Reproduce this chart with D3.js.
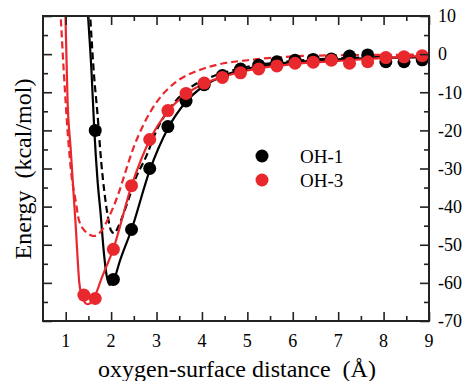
<!DOCTYPE html>
<html><head><meta charset="utf-8">
<script src="https://cdn.jsdelivr.net/npm/d3@7"></script>
<style>body{margin:0;background:#fff}</style>
</head><body><svg id="c" width="468" height="381"></svg>
<script>
// ---- data ----
const oh1X = [1.65,2.05,2.45,2.85,3.25,3.65,4.05,4.45,4.85,5.25,5.65,6.05,6.45,6.85,7.25,7.65,8.05,8.45,8.85];
const oh1Y = [-20,-59.1,-46,-30,-19,-12.3,-8,-5.6,-3.9,-2.9,-2.0,-1.6,-1.4,-1.3,-0.5,-0.2,-2.0,-2.0,-1.5];
const oh3X = [1.4,1.65,2.05,2.45,2.85,3.25,3.65,4.05,4.45,4.85,5.25,5.65,6.05,6.45,6.85,7.25,7.65,8.05,8.45,8.85];
const oh3Y = [-63.2,-64.1,-51.2,-34.5,-22.4,-14.8,-10.3,-7.6,-6.1,-4.9,-3.9,-3.1,-2.4,-2.1,-1.6,-2.4,-2.0,-0.9,-0.7,-0.4];

const fit1X = [1.48,1.57,1.63,1.70,1.77,1.84,1.90,1.97,2.05,2.20,2.45,2.85,3.25,3.65,4.05,4.5,5.0,5.5,6.0,7.0,8.0,9.0];
const fit1Y = [12,-5,-20,-33,-42,-52,-58,-60.5,-59.5,-54,-46,-30.5,-19.5,-12.5,-8.3,-5.6,-3.8,-2.8,-2.1,-1.4,-1.0,-0.8];
const dash1X = [1.53,1.62,1.70,1.78,1.85,1.92,2.00,2.07,2.15,2.25,2.40,2.51,2.77,3.02,3.35,3.72,4.2,4.6,5.0,6.0,7.0,8.0,9.0];
const dash1Y = [12,-5,-15.7,-28,-36,-42,-46.3,-47,-45.5,-42.6,-37.5,-33.5,-26.9,-19.5,-13.3,-9,-6,-4.5,-3.3,-1.8,-1.1,-0.7,-0.5];
const fit3X = [0.99,1.04,1.11,1.17,1.22,1.30,1.37,1.48,1.60,1.80,2.05,2.45,2.85,3.25,3.65,4.05,4.5,5.0,5.5,6.0,7.0,8.0,9.0];
const fit3Y = [12,-12,-25,-36,-45,-60,-64,-65.6,-64.5,-58.5,-51,-34.5,-22.5,-15,-10.5,-7.7,-5.8,-4.3,-3.3,-2.6,-1.8,-1.0,-0.4];
const dash3X = [0.88,0.96,1.04,1.12,1.22,1.29,1.44,1.55,1.63,1.77,1.96,2.15,2.30,2.47,2.73,3.02,3.43,3.94,4.4,5.0,6.0,7.0,8.0,9.0];
const dash3Y = [12,-5,-20,-31,-38.5,-43.5,-46.6,-47.5,-47.7,-46.6,-42.5,-37,-31.5,-25.3,-18.1,-12.3,-7.3,-4.2,-2.6,-1.6,-0.6,-0.3,-0.2,-0.1];

const xTicks = [1,2,3,4,5,6,7,8,9];
const yTicks = [10,0,-10,-20,-30,-40,-50,-60,-70];
const legendLabels = ["OH-1","OH-3"];
const colors = ["#000000","#e8282c"];

// ---- layout ----
const L=43,R=429,T=16,B=321;
const svg=d3.select("#c");
const x=d3.scaleLinear().domain([0.5,9]).range([L,R]);
const y=d3.scaleLinear().domain([-70,10]).range([B,T]);
const font="'Liberation Serif','Times New Roman',serif";

svg.append("defs").append("clipPath").attr("id","clip").append("rect")
  .attr("x",L).attr("y",T).attr("width",R-L).attr("height",B-T);

const g=svg.append("g").attr("clip-path","url(#clip)");
const line=d3.line().x(d=>x(d[0])).y(d=>y(d[1])).curve(d3.curveMonotoneX);
const zip=(a,b)=>a.map((v,i)=>[v,b[i]]);

g.append("path").datum(zip(dash1X,dash1Y)).attr("d",line).attr("fill","none")
  .attr("stroke",colors[0]).attr("stroke-width",2.2).attr("stroke-dasharray","7,4");
g.append("path").datum(zip(fit1X,fit1Y)).attr("d",line).attr("fill","none")
  .attr("stroke",colors[0]).attr("stroke-width",2.2);
g.append("path").datum(zip(dash3X,dash3Y)).attr("d",line).attr("fill","none")
  .attr("stroke",colors[1]).attr("stroke-width",2.2).attr("stroke-dasharray","7,4");
g.append("path").datum(zip(fit3X,fit3Y)).attr("d",line).attr("fill","none")
  .attr("stroke",colors[1]).attr("stroke-width",2.2);

g.selectAll(".d1").data(zip(oh1X,oh1Y)).enter().append("circle")
  .attr("cx",d=>x(d[0])).attr("cy",d=>y(d[1])).attr("r",6.5).attr("fill",colors[0]);
g.selectAll(".d3").data(zip(oh3X,oh3Y)).enter().append("circle")
  .attr("cx",d=>x(d[0])).attr("cy",d=>y(d[1])).attr("r",6.5).attr("fill",colors[1]);

// axes (inward ticks)
const xMinor=d3.range(1.5,9,1);
const yMinor=d3.range(-65,10,10);
function ax(axis, tr){ const a=svg.append("g").attr("transform",tr).call(axis);
  a.select(".domain").remove(); a.selectAll("line").attr("stroke","#222").attr("stroke-width",1.6); return a;}
ax(d3.axisBottom(x).tickValues(xTicks).tickSize(-9).tickFormat(""),`translate(0,${B})`);
ax(d3.axisBottom(x).tickValues(xMinor).tickSize(-5).tickFormat(""),`translate(0,${B})`);
ax(d3.axisTop(x).tickValues(xTicks).tickSize(-9).tickFormat(""),`translate(0,${T})`);
ax(d3.axisTop(x).tickValues(xMinor).tickSize(-5).tickFormat(""),`translate(0,${T})`);
ax(d3.axisLeft(y).tickValues(yTicks).tickSize(-9).tickFormat(""),`translate(${L},0)`);
ax(d3.axisLeft(y).tickValues(yMinor).tickSize(-5).tickFormat(""),`translate(${L},0)`);
ax(d3.axisRight(y).tickValues(yTicks).tickSize(-9).tickFormat(""),`translate(${R},0)`);
ax(d3.axisRight(y).tickValues(yMinor).tickSize(-5).tickFormat(""),`translate(${R},0)`);

svg.append("rect").attr("x",L).attr("y",T).attr("width",R-L).attr("height",B-T)
  .attr("fill","none").attr("stroke","#222").attr("stroke-width",2);

// tick labels
svg.selectAll(".xl").data(xTicks).enter().append("text")
  .attr("x",d=>x(d)).attr("y",347).attr("text-anchor","middle")
  .attr("font-family",font).attr("font-size",18).text(d=>d);
svg.selectAll(".yl").data(yTicks).enter().append("text")
  .attr("x",438).attr("y",d=>y(d)).attr("dy","0.35em").attr("text-anchor","start")
  .attr("font-family",font).attr("font-size",18).text(d=>d);

// titles
svg.append("text").attr("x",237).attr("y",377).attr("text-anchor","middle")
  .attr("font-family",font).attr("font-size",24).attr("xml:space","preserve")
  .text("oxygen-surface distance  (Å)");
svg.append("text").attr("transform","translate(31,169) rotate(-90)").attr("text-anchor","middle")
  .attr("font-family",font).attr("font-size",24).attr("xml:space","preserve")
  .text("Energy  (kcal/mol)");

// legend
legendLabels.forEach((t,i)=>{
  svg.append("circle").attr("cx",262).attr("cy",156+24*i).attr("r",6.5).attr("fill",colors[i]);
  svg.append("text").attr("x",300).attr("y",156+24*i).attr("dy","0.35em")
    .attr("font-family",font).attr("font-size",19).text(t);
});
</script></body></html>
